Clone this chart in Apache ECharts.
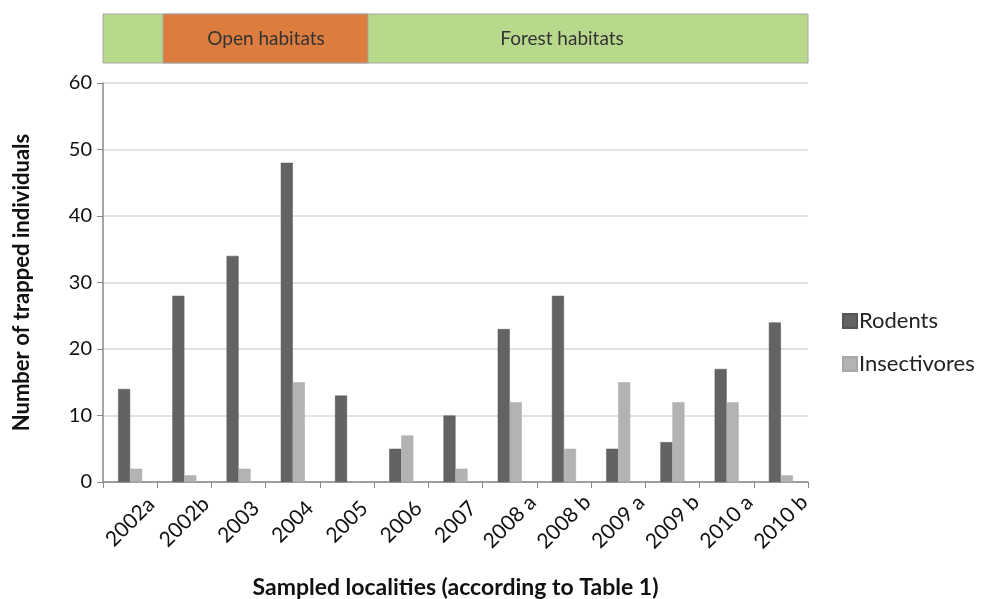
<!DOCTYPE html>
<html>
<head>
<meta charset="utf-8">
<script src="https://cdn.jsdelivr.net/npm/echarts@6/dist/echarts.min.js"></script>
<style>
  html, body { margin: 0; padding: 0; background: #fff; }
  #main { width: 981px; height: 599px; }
</style>
</head>
<body>
<div id="main"></div>
<script>
// data
const localities = ['2002a', '2002b', '2003', '2004', '2005', '2006', '2007',
  '2008 a', '2008 b', '2009 a', '2009 b', '2010 a', '2010 b']
const rodents = [14, 28, 34, 48, 13, 5, 10, 23, 28, 5, 6, 17, 24]
const insectivores = [2, 1, 2, 15, 0, 7, 2, 12, 5, 15, 12, 12, 1]
const yTicks = [0, 10, 20, 30, 40, 50, 60]

const font = 'Lato, "Open Sans", sans-serif'
const myChart = echarts.init(document.getElementById('main'))

const options = {
  animation: false,
  textStyle: { fontFamily: font },
  color: ['#626362', '#b3b3b3'],
  grid: { left: 103, right: 173, top: 83, bottom: 117, containLabel: false, outerBoundsMode: 'none' },
  legend: {
    orient: 'vertical',
    left: 837,
    top: 305,
    itemWidth: 14,
    itemHeight: 14,
    itemGap: 21,
    icon: 'rect',
    textStyle: { fontSize: 22, color: '#222', fontFamily: font, padding: [0, 0, 0, -3] },
    data: ['Rodents', 'Insectivores']
  },
  xAxis: {
    type: 'category',
    data: localities,
    name: 'Sampled localities (according to Table 1)',
    nameLocation: 'middle',
    nameGap: 94,
    nameTextStyle: { fontSize: 23, fontWeight: 'bold', color: '#111', fontFamily: font },
    axisLine: { lineStyle: { color: '#888', width: 1.5 } },
    axisTick: { show: true, length: 6, lineStyle: { color: '#888' } },
    axisLabel: {
      rotate: 45, fontSize: 21, color: '#111', margin: 40, fontFamily: font,
      align: 'center', verticalAlign: 'middle'
    }
  },
  yAxis: {
    type: 'value',
    min: yTicks[0],
    max: yTicks[yTicks.length - 1],
    interval: 10,
    name: 'Number of trapped individuals',
    nameLocation: 'middle',
    nameGap: 70,
    nameTextStyle: { fontSize: 22, fontWeight: 'bold', color: '#111', fontFamily: font },
    axisLine: { show: true, lineStyle: { color: '#888', width: 1.5 } },
    axisTick: { show: true, length: 6, lineStyle: { color: '#888' } },
    axisLabel: { fontSize: 20, color: '#111', margin: 11, fontFamily: font },
    splitLine: { lineStyle: { color: '#d9d9d9', width: 1.5 } }
  },
  series: [{
    name: 'Rodents',
    type: 'bar',
    barWidth: 12,
    barGap: '0%',
    itemStyle: { borderColor: '#555', borderWidth: 0.5 },
    data: rodents
  }, {
    name: 'Insectivores',
    type: 'bar',
    barWidth: 12,
    itemStyle: { borderColor: '#a8a8a8', borderWidth: 0.5 },
    data: insectivores
  }],
  // habitat band above the plot
  graphic: [
    { type: 'rect', shape: { x: 103, y: 14, width: 705, height: 49 },
      style: { fill: '#b8d98c', stroke: '#a6a6a6', lineWidth: 1 } },
    { type: 'rect', shape: { x: 163, y: 14, width: 205, height: 49 },
      style: { fill: '#dc7c3e', stroke: '#a6a6a6', lineWidth: 1 } },
    { type: 'text', x: 266, y: 39,
      style: { text: 'Open habitats', fill: '#333', font: '19px ' + font, align: 'center', verticalAlign: 'middle' } },
    { type: 'text', x: 562, y: 39,
      style: { text: 'Forest habitats', fill: '#333', font: '19px ' + font, align: 'center', verticalAlign: 'middle' } }
  ]
}

myChart.setOption(options)
</script>
</body>
</html>
